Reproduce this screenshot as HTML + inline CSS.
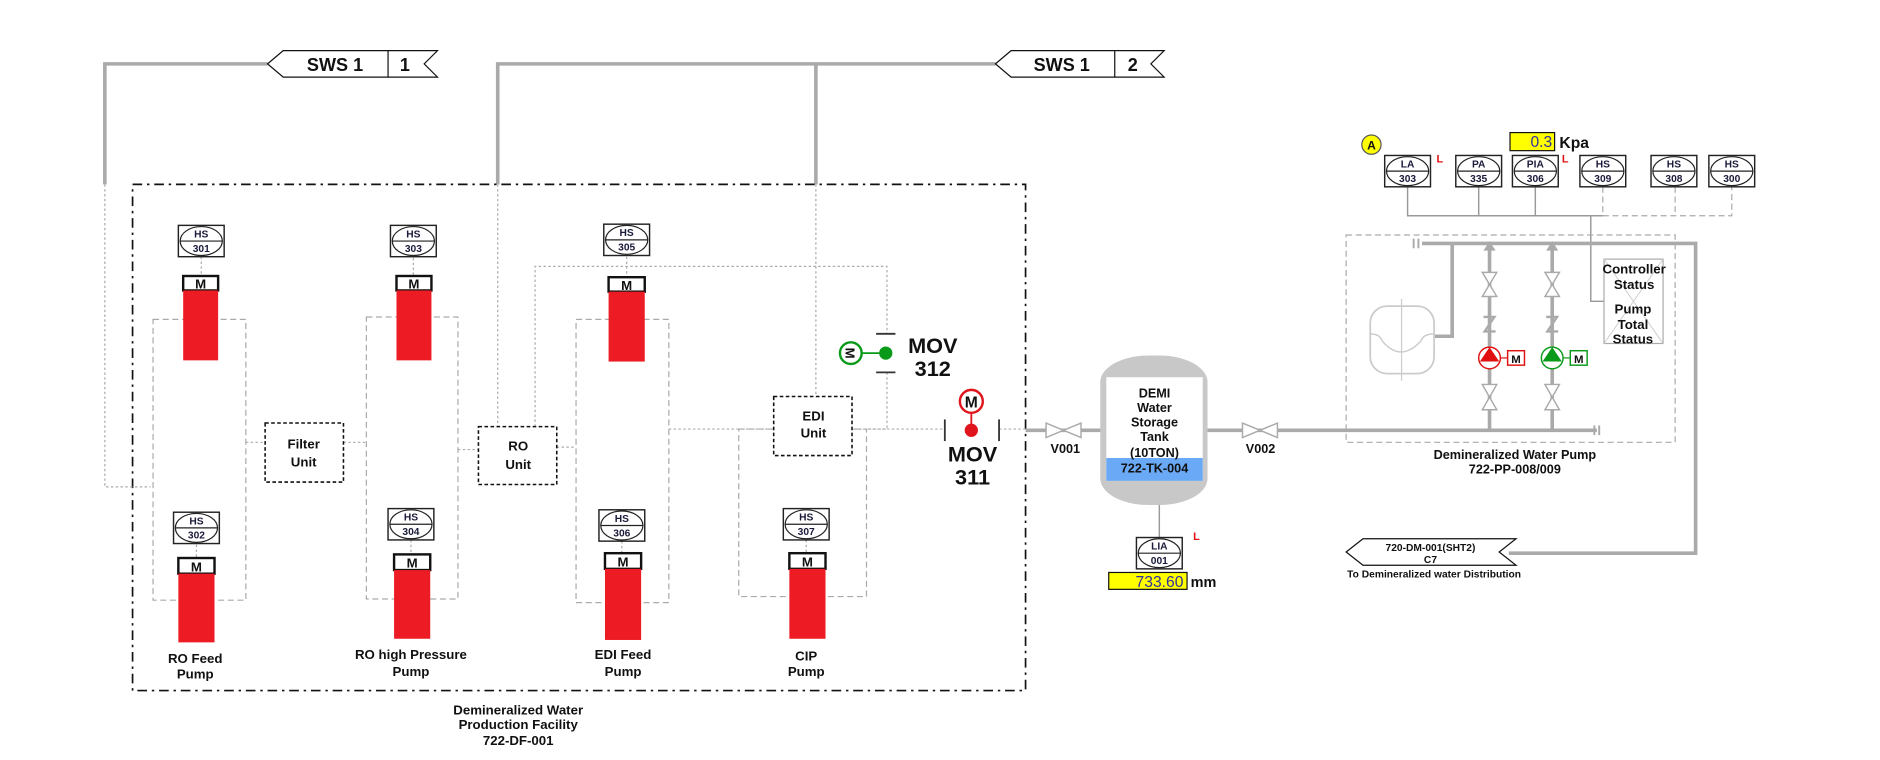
<!DOCTYPE html>
<html><head><meta charset="utf-8"><style>
html,body{margin:0;padding:0;background:#fff;width:1880px;height:760px;overflow:hidden}
svg{display:block}
text{font-family:"Liberation Sans",Arial,sans-serif;font-weight:bold;fill:#111}
.i{font-size:8.5px;fill:#1a1a3a}
.lb{font-size:11px}
.dot{stroke:#aaa;stroke-width:1;stroke-dasharray:2 2;fill:none}
.dsh{stroke:#aaa;stroke-width:1;stroke-dasharray:5 3;fill:none}
.pipe{stroke:#aaa;stroke-width:3;fill:none}
.ubox{fill:#fff;stroke:#111;stroke-width:1.3;stroke-dasharray:3 2}
</style></head><body>
<svg width="1880" height="760" viewBox="0 0 1560 630.6" preserveAspectRatio="none">
<defs>
<g id="ins"><rect x="0" y="0" width="38" height="26" fill="#fff" stroke="#222" stroke-width="1.2"/><ellipse cx="19" cy="13" rx="17.5" ry="12" fill="none" stroke="#222" stroke-width="1"/><line x1="1.5" y1="13" x2="36.5" y2="13" stroke="#222" stroke-width="1"/></g>
</defs>

<!-- SWS pipes -->
<polyline class="pipe" points="222,53 87,53 87,153"/>
<polyline class="pipe" points="826,53 413,53 413,153"/>
<line class="pipe" x1="677" y1="53" x2="677" y2="153"/>
<!-- SWS tags -->
<polygon points="222,53 235,42 363,42 352,53 363,64 235,64" fill="#fff" stroke="#111" stroke-width="1"/>
<line x1="322" y1="42" x2="322" y2="64" stroke="#111"/>
<text x="278" y="59" font-size="15" text-anchor="middle">SWS 1</text>
<text x="336" y="59" font-size="15" text-anchor="middle">1</text>
<polygon points="826,53 839,42 966,42 955,53 966,64 839,64" fill="#fff" stroke="#111" stroke-width="1"/>
<line x1="925" y1="42" x2="925" y2="64" stroke="#111"/>
<text x="881" y="59" font-size="15" text-anchor="middle">SWS 1</text>
<text x="940" y="59" font-size="15" text-anchor="middle">2</text>

<!-- big dash-dot box -->
<rect x="110" y="153" width="741" height="420" fill="none" stroke="#111" stroke-width="1.4" stroke-dasharray="8 4 2 4"/>

<!-- dotted control lines -->
<polyline class="dot" points="87,153 87,404 125,404"/>
<polyline class="dot" points="413,153 413,354"/>
<polyline class="dot" points="677,153 677,329"/>
<polyline class="dot" points="444,354 444,221 736,221 736,277"/>
<polyline class="dot" points="736,309 736,356 708,356"/>
<polyline class="dot" points="708,356 784,356"/>
<polyline class="dot" points="829,356 851,356"/>
<polyline class="dot" points="555,356 642,356"/>
<polyline class="dot" points="204,367 220,367"/>
<polyline class="dot" points="285,367 304,367"/>
<polyline class="dot" points="380,373 397,373"/>
<polyline class="dot" points="462,371 478,371"/>
<!-- group rects -->
<rect class="dsh" x="127" y="265" width="77" height="233"/>
<rect class="dsh" x="304" y="263" width="76" height="234"/>
<rect class="dsh" x="478" y="265" width="77" height="235"/>
<rect class="dsh" x="613" y="356" width="106" height="139"/>

<!-- unit boxes -->
<rect class="ubox" x="220" y="351" width="65" height="49"/>
<text class="lb" x="252" y="372" text-anchor="middle">Filter</text><text class="lb" x="252" y="387" text-anchor="middle">Unit</text>
<rect class="ubox" x="397" y="354" width="65" height="48"/>
<text class="lb" x="430" y="374" text-anchor="middle">RO</text><text class="lb" x="430" y="389" text-anchor="middle">Unit</text>
<rect class="ubox" x="642" y="329" width="65" height="49"/>
<text class="lb" x="675" y="349" text-anchor="middle">EDI</text><text class="lb" x="675" y="363" text-anchor="middle">Unit</text>

<!-- pumps: instrument + M + red -->
<g>
<line class="dot" x1="167" y1="213" x2="167" y2="229"/>
<use href="#ins" x="148" y="187"/><text class="i" x="167" y="197" text-anchor="middle">HS</text><text class="i" x="167" y="209" text-anchor="middle">301</text>
<rect x="152" y="229" width="29" height="12" fill="#fff" stroke="#111" stroke-width="2"/><text x="166.5" y="239.5" font-size="11" text-anchor="middle">M</text>
<rect x="152" y="241" width="29" height="58" fill="#ed1c24"/>

<line class="dot" x1="343" y1="214" x2="343" y2="229"/>
<use href="#ins" x="324" y="187"/><text class="i" x="343" y="197" text-anchor="middle">HS</text><text class="i" x="343" y="209" text-anchor="middle">303</text>
<rect x="329" y="229" width="29" height="12" fill="#fff" stroke="#111" stroke-width="2"/><text x="343.5" y="239.5" font-size="11" text-anchor="middle">M</text>
<rect x="329" y="241" width="29" height="58" fill="#ed1c24"/>

<line class="dot" x1="520" y1="213" x2="520" y2="230"/>
<use href="#ins" x="501" y="186"/><text class="i" x="520" y="196" text-anchor="middle">HS</text><text class="i" x="520" y="208" text-anchor="middle">305</text>
<rect x="505" y="230" width="30" height="12" fill="#fff" stroke="#111" stroke-width="2"/><text x="520" y="240.5" font-size="11" text-anchor="middle">M</text>
<rect x="505" y="242" width="30" height="58" fill="#ed1c24"/>

<line class="dot" x1="163" y1="452" x2="163" y2="463"/>
<use href="#ins" x="144" y="425"/><text class="i" x="163" y="435" text-anchor="middle">HS</text><text class="i" x="163" y="447" text-anchor="middle">302</text>
<rect x="148" y="463" width="30" height="13" fill="#fff" stroke="#111" stroke-width="2"/><text x="163" y="474" font-size="11" text-anchor="middle">M</text>
<rect x="148" y="476" width="30" height="57" fill="#ed1c24"/>

<line class="dot" x1="341" y1="448" x2="341" y2="460"/>
<use href="#ins" x="322" y="422"/><text class="i" x="341" y="432" text-anchor="middle">HS</text><text class="i" x="341" y="444" text-anchor="middle">304</text>
<rect x="327" y="460" width="30" height="13" fill="#fff" stroke="#111" stroke-width="2"/><text x="342" y="471" font-size="11" text-anchor="middle">M</text>
<rect x="327" y="473" width="30" height="57" fill="#ed1c24"/>

<line class="dot" x1="516" y1="449" x2="516" y2="459"/>
<use href="#ins" x="497" y="423"/><text class="i" x="516" y="433" text-anchor="middle">HS</text><text class="i" x="516" y="445" text-anchor="middle">306</text>
<rect x="502" y="459" width="30" height="13" fill="#fff" stroke="#111" stroke-width="2"/><text x="517" y="470" font-size="11" text-anchor="middle">M</text>
<rect x="502" y="472" width="30" height="59" fill="#ed1c24"/>

<line class="dot" x1="669" y1="448" x2="669" y2="459"/>
<use href="#ins" x="650" y="422"/><text class="i" x="669" y="432" text-anchor="middle">HS</text><text class="i" x="669" y="444" text-anchor="middle">307</text>
<rect x="655" y="459" width="30" height="13" fill="#fff" stroke="#111" stroke-width="2"/><text x="670" y="470" font-size="11" text-anchor="middle">M</text>
<rect x="655" y="472" width="30" height="58" fill="#ed1c24"/>
</g>
<text class="lb" x="162" y="550" text-anchor="middle">RO Feed</text><text class="lb" x="162" y="563" text-anchor="middle">Pump</text>
<text class="lb" x="341" y="547" text-anchor="middle">RO high Pressure</text><text class="lb" x="341" y="561" text-anchor="middle">Pump</text>
<text class="lb" x="517" y="547" text-anchor="middle">EDI  Feed</text><text class="lb" x="517" y="561" text-anchor="middle">Pump</text>
<text class="lb" x="669" y="548" text-anchor="middle">CIP</text><text class="lb" x="669" y="561" text-anchor="middle">Pump</text>
<text class="lb" x="430" y="593" text-anchor="middle">Demineralized Water</text>
<text class="lb" x="430" y="605" text-anchor="middle">Production Facility</text>
<text class="lb" x="430" y="618" text-anchor="middle">722-DF-001</text>

<!-- MOV312 -->
<line x1="727" y1="277" x2="743" y2="277" stroke="#333" stroke-width="1.5"/>
<line x1="727" y1="309" x2="743" y2="309" stroke="#333" stroke-width="1.5"/>
<line x1="706" y1="293" x2="735" y2="293" stroke="#0a9a1a" stroke-width="1.5"/>
<circle cx="735" cy="293" r="5.5" fill="#0a9a1a"/>
<circle cx="706" cy="293" r="9" fill="#fff" stroke="#0a9a1a" stroke-width="2"/>
<text x="706" y="297.5" font-size="11" text-anchor="middle" transform="rotate(90 706 293)">M</text>
<text x="774" y="293" font-size="18" text-anchor="middle">MOV</text>
<text x="774" y="312" font-size="18" text-anchor="middle">312</text>
<!-- MOV311 -->
<line x1="784" y1="348" x2="784" y2="366" stroke="#333" stroke-width="1.5"/>
<line x1="829" y1="348" x2="829" y2="366" stroke="#333" stroke-width="1.5"/>
<line x1="806" y1="333" x2="806" y2="357" stroke="#e0141c" stroke-width="1.5"/>
<circle cx="806" cy="357" r="5.5" fill="#e0141c"/>
<circle cx="806" cy="333" r="9.5" fill="#fff" stroke="#e0141c" stroke-width="2"/>
<text x="806" y="338" font-size="13" text-anchor="middle">M</text>
<text x="807" y="383" font-size="18" text-anchor="middle">MOV</text>
<text x="807" y="402" font-size="18" text-anchor="middle">311</text>

<!-- main pipe -->
<line class="pipe" x1="851" y1="357" x2="918" y2="357"/>
<line class="pipe" x1="1002" y1="357" x2="1325" y2="357"/>
<g fill="#fff" stroke="#aaa" stroke-width="1.2">
<polygon points="868,351 897,363 897,351 868,363"/>
<polygon points="1031,351 1060,363 1060,351 1031,363"/>
</g>
<text x="884" y="376" font-size="10.5" text-anchor="middle">V001</text>
<text x="1046" y="376" font-size="10.5" text-anchor="middle">V002</text>

<!-- tank -->
<rect x="913" y="295" width="89" height="124" rx="40" ry="22" fill="#c8c8c8"/>
<rect x="918" y="313" width="80" height="86" fill="#fff"/>
<rect x="918" y="380" width="80" height="19" fill="#6aa9f5"/>
<text x="958" y="330" font-size="10.5" text-anchor="middle">DEMI</text>
<text x="958" y="342" font-size="10.5" text-anchor="middle">Water</text>
<text x="958" y="354" font-size="10.5" text-anchor="middle">Storage</text>
<text x="958" y="366" font-size="10.5" text-anchor="middle">Tank</text>
<text x="958" y="379" font-size="10.5" text-anchor="middle">(10TON)</text>
<text x="958" y="392" font-size="10.5" text-anchor="middle">722-TK-004</text>
<line x1="962" y1="419" x2="962" y2="446" stroke="#999" stroke-width="1.2"/>
<use href="#ins" x="943" y="446"/><text class="i" x="962" y="456" text-anchor="middle">LIA</text><text class="i" x="962" y="468" text-anchor="middle">001</text>
<text x="990" y="448" font-size="9" fill="#e01010" style="fill:#e01010">L</text>
<rect x="920" y="475" width="65" height="14" fill="#ffff00" stroke="#111" stroke-width="1"/>
<text x="982" y="487" font-size="13" text-anchor="end" style="font-weight:normal;fill:#3030a0">733.60</text>
<text x="988" y="487" font-size="12">mm</text>

<!-- right side instruments -->
<circle cx="1138" cy="120" r="8" fill="#ffff00" stroke="#555" stroke-width="1"/>
<text x="1138" y="124" font-size="10" text-anchor="middle">A</text>
<rect x="1253" y="110" width="37" height="15" fill="#ffff00" stroke="#111" stroke-width="1"/>
<text x="1288" y="122" font-size="13" text-anchor="end" style="font-weight:normal;fill:#3030a0">0.3</text>
<text x="1294" y="123" font-size="13">Kpa</text>
<g stroke="#999" stroke-width="1.2" fill="none">
<polyline points="1168,155 1168,179 1330,179"/>
<line x1="1227" y1="155" x2="1227" y2="179"/>
<line x1="1274" y1="155" x2="1274" y2="179"/>
<polyline points="1320,179 1320,250 1331,250"/>
</g>
<polyline class="dsh" points="1330,155 1330,179 1437,179 1437,155"/>
<line class="dsh" x1="1390" y1="155" x2="1390" y2="179"/>
<use href="#ins" x="1149" y="129"/><text class="i" x="1168" y="139" text-anchor="middle">LA</text><text class="i" x="1168" y="151" text-anchor="middle">303</text>
<use href="#ins" x="1208" y="129"/><text class="i" x="1227" y="139" text-anchor="middle">PA</text><text class="i" x="1227" y="151" text-anchor="middle">335</text>
<use href="#ins" x="1255" y="129"/><text class="i" x="1274" y="139" text-anchor="middle">PIA</text><text class="i" x="1274" y="151" text-anchor="middle">306</text>
<use href="#ins" x="1311" y="129"/><text class="i" x="1330" y="139" text-anchor="middle">HS</text><text class="i" x="1330" y="151" text-anchor="middle">309</text>
<use href="#ins" x="1370" y="129"/><text class="i" x="1389" y="139" text-anchor="middle">HS</text><text class="i" x="1389" y="151" text-anchor="middle">308</text>
<use href="#ins" x="1418" y="129"/><text class="i" x="1437" y="139" text-anchor="middle">HS</text><text class="i" x="1437" y="151" text-anchor="middle">300</text>
<text x="1192" y="135" font-size="9" style="fill:#e01010">L</text>
<text x="1296" y="135" font-size="9" style="fill:#e01010">L</text>

<rect class="dsh" x="1117" y="195" width="273" height="172"/>
<!-- pipes right -->
<polyline class="pipe" points="1180,202 1407,202 1407,459 1252,459"/>
<g stroke="#aaa" stroke-width="1.6"><line x1="1173" y1="198" x2="1173" y2="206"/><line x1="1177" y1="198" x2="1177" y2="206"/>
<line x1="1323" y1="353" x2="1323" y2="361"/><line x1="1327" y1="353" x2="1327" y2="361"/></g>
<polyline class="pipe" points="1190,279 1205,279 1205,202"/>
<!-- vessel -->
<rect x="1137" y="254" width="53" height="56" rx="14" fill="none" stroke="#ccc" stroke-width="1.5"/>
<path d="M1137,277 q8,0 10,6 q15,18 32,0 q2,-6 11,-6" fill="none" stroke="#ccc" stroke-width="1.2"/>
<line x1="1163" y1="248" x2="1163" y2="316" stroke="#ccc" stroke-width="1"/>
<!-- pump columns -->
<g>
<line class="pipe" x1="1236" y1="206" x2="1236" y2="357"/>
<line class="pipe" x1="1288" y1="206" x2="1288" y2="357"/>
<polygon points="1236,200 1231,208 1241,208" fill="#aaa"/>
<polygon points="1288,200 1283,208 1293,208" fill="#aaa"/>
<g fill="#fff" stroke="#aaa" stroke-width="1.2">
<polygon points="1230,226 1242,246 1230,246 1242,226"/>
<polygon points="1282,226 1294,246 1282,246 1294,226"/>
<polygon points="1230,319 1242,340 1230,340 1242,319"/>
<polygon points="1282,319 1294,340 1282,340 1294,319"/>
</g>
<path d="M1231,263 h9 l-8,12 h9" fill="none" stroke="#aaa" stroke-width="2"/>
<path d="M1283,263 h9 l-8,12 h9" fill="none" stroke="#aaa" stroke-width="2"/>
<line x1="1244" y1="297" x2="1251" y2="297" stroke="#e01010"/>
<circle cx="1236" cy="297" r="9" fill="#fff" stroke="#e01010" stroke-width="1.2"/>
<polygon points="1236,288 1244,300 1228,300" fill="#e01010"/>
<rect x="1251" y="291" width="14" height="12" fill="#fff" stroke="#e01010" stroke-width="1.2"/>
<text x="1258" y="301" font-size="9.5" text-anchor="middle">M</text>
<line x1="1296" y1="297" x2="1303" y2="297" stroke="#0a9a1a"/>
<circle cx="1288" cy="297" r="9" fill="#fff" stroke="#0a9a1a" stroke-width="1.2"/>
<polygon points="1288,288 1296,300 1280,300" fill="#0a9a1a"/>
<rect x="1303" y="291" width="14" height="12" fill="#fff" stroke="#0a9a1a" stroke-width="1.2"/>
<text x="1310" y="301" font-size="9.5" text-anchor="middle">M</text>
</g>
<!-- controller -->
<rect x="1331" y="215" width="49" height="70" fill="#fff" stroke="#aaa" stroke-width="1"/>
<path d="M1331,215 L1380,285 M1380,215 L1331,285" stroke="#ccc" stroke-width="0.8"/>
<text x="1356" y="227" font-size="11" text-anchor="middle">Controller</text>
<text x="1356" y="240" font-size="11" text-anchor="middle">Status</text>
<text x="1355" y="260" font-size="11" text-anchor="middle">Pump</text>
<text x="1355" y="273" font-size="11" text-anchor="middle">Total</text>
<text x="1355" y="285" font-size="11" text-anchor="middle">Status</text>
<text x="1257" y="381" font-size="10.5" text-anchor="middle">Demineralized Water Pump</text>
<text x="1257" y="393" font-size="10.5" text-anchor="middle">722-PP-008/009</text>
<!-- distribution tag -->
<polygon points="1117,458 1131,447 1258,447 1244,458 1258,469 1131,469" fill="#fff" stroke="#111" stroke-width="1"/>
<text x="1187" y="457" font-size="8.5" text-anchor="middle">720-DM-001(SHT2)</text>
<text x="1187" y="467" font-size="8.5" text-anchor="middle">C7</text>
<text x="1190" y="479" font-size="8.5" text-anchor="middle">To Demineralized water Distribution</text>
</svg>
</body></html>
